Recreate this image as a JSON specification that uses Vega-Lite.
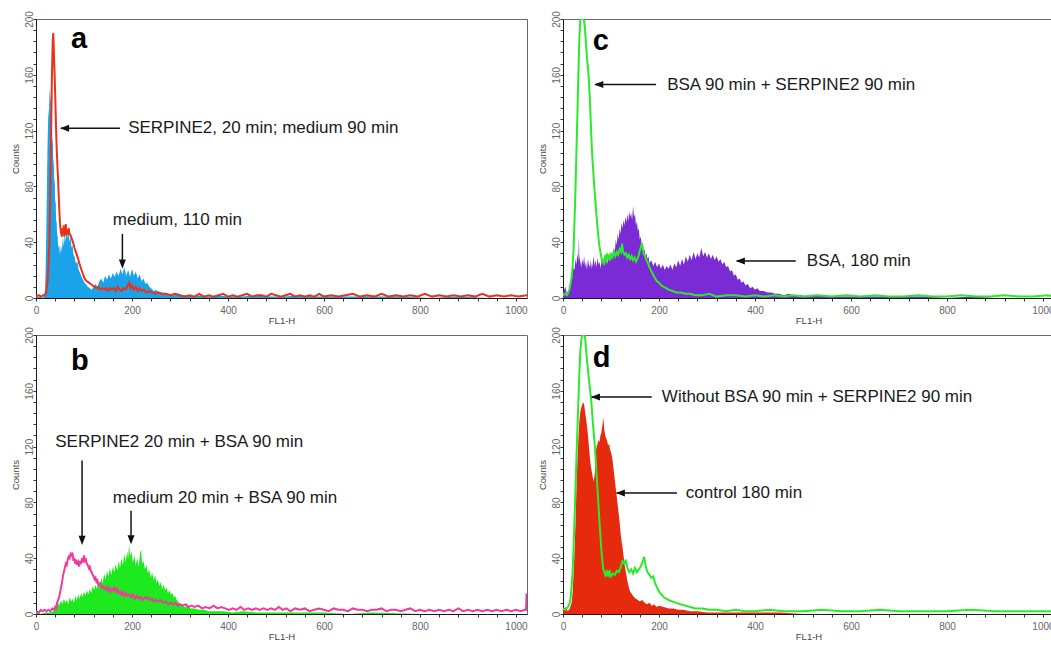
{
"$schema": "https://vega.github.io/schema/vega-lite/v6.json",
"padding": {"left": 9, "top": 10, "right": 0, "bottom": 0},
"config": {
  "view": {"stroke": "#6a6a6a", "strokeWidth": 1},
  "font": "Liberation Sans",
  "axis": {"grid": false, "domainColor": "#1a1a1a", "tickColor": "#333", "labelColor": "#666", "labelFont": "Liberation Sans", "labelFontSize": 10, "titleFont": "Liberation Sans", "titleFontSize": 9.5, "titleFontWeight": "normal", "titleColor": "#444", "tickSize": 3, "format": "d"}
},
"datasets": {
  "a_fill": [{"x":0,"y":0},{"x":8,"y":1},{"x":14,"y":0},{"x":17,"y":2},{"x":19,"y":6},{"x":20,"y":20},{"x":21,"y":38},{"x":22,"y":60},{"x":23,"y":85},{"x":24,"y":108},{"x":25,"y":124},{"x":26,"y":136},{"x":27,"y":130},{"x":28,"y":146},{"x":29,"y":150},{"x":30,"y":140},{"x":31,"y":146},{"x":32,"y":118},{"x":33,"y":130},{"x":34,"y":110},{"x":35,"y":116},{"x":36,"y":96},{"x":37,"y":100},{"x":38,"y":82},{"x":39,"y":86},{"x":40,"y":68},{"x":41,"y":70},{"x":42,"y":54},{"x":43,"y":56},{"x":44,"y":44},{"x":45,"y":46},{"x":46,"y":36},{"x":48,"y":38},{"x":50,"y":31},{"x":52,"y":38},{"x":54,"y":33},{"x":56,"y":44},{"x":58,"y":37},{"x":60,"y":47},{"x":62,"y":40},{"x":64,"y":52},{"x":66,"y":43},{"x":68,"y":48},{"x":70,"y":40},{"x":72,"y":44},{"x":74,"y":36},{"x":76,"y":38},{"x":78,"y":31},{"x":80,"y":30},{"x":83,"y":25},{"x":86,"y":26},{"x":89,"y":20},{"x":92,"y":18},{"x":95,"y":15},{"x":98,"y":13},{"x":101,"y":11},{"x":104,"y":10},{"x":108,"y":8},{"x":112,"y":7},{"x":116,"y":6},{"x":120,"y":8},{"x":124,"y":10},{"x":128,"y":8},{"x":132,"y":12},{"x":136,"y":14},{"x":140,"y":11},{"x":144,"y":16},{"x":148,"y":13},{"x":152,"y":17},{"x":156,"y":14},{"x":160,"y":18},{"x":164,"y":15},{"x":168,"y":19},{"x":172,"y":16},{"x":176,"y":21},{"x":180,"y":17},{"x":184,"y":22},{"x":188,"y":16},{"x":192,"y":20},{"x":196,"y":15},{"x":200,"y":21},{"x":204,"y":16},{"x":208,"y":19},{"x":212,"y":14},{"x":216,"y":17},{"x":220,"y":12},{"x":224,"y":14},{"x":228,"y":10},{"x":232,"y":11},{"x":236,"y":8},{"x":240,"y":7},{"x":245,"y":5},{"x":250,"y":6},{"x":256,"y":4},{"x":262,"y":4},{"x":270,"y":3},{"x":278,"y":3},{"x":286,"y":2},{"x":295,"y":3},{"x":305,"y":2},{"x":315,"y":2},{"x":330,"y":1},{"x":345,"y":2},{"x":360,"y":1},{"x":380,"y":2},{"x":400,"y":1},{"x":430,"y":1},{"x":460,"y":2},{"x":490,"y":1},{"x":520,"y":1},{"x":550,"y":2},{"x":580,"y":1},{"x":620,"y":1},{"x":660,"y":1},{"x":700,"y":1},{"x":760,"y":1},{"x":820,"y":0},{"x":880,"y":1},{"x":940,"y":0},{"x":1023,"y":0}],
  "a_line": [{"x":0,"y":1},{"x":6,"y":2},{"x":11,"y":1},{"x":15,"y":2},{"x":18,"y":2},{"x":20,"y":3},{"x":22,"y":6},{"x":24,"y":12},{"x":26,"y":24},{"x":28,"y":42},{"x":30,"y":80},{"x":32,"y":130},{"x":33,"y":155},{"x":34,"y":172},{"x":35,"y":185},{"x":36,"y":190},{"x":37,"y":180},{"x":38,"y":168},{"x":39,"y":158},{"x":40,"y":146},{"x":41,"y":132},{"x":42,"y":120},{"x":43,"y":108},{"x":44,"y":100},{"x":45,"y":92},{"x":46,"y":86},{"x":47,"y":76},{"x":48,"y":68},{"x":49,"y":60},{"x":50,"y":54},{"x":51,"y":50},{"x":52,"y":47},{"x":54,"y":44},{"x":55,"y":50},{"x":56,"y":46},{"x":58,"y":52},{"x":59,"y":44},{"x":60,"y":50},{"x":61,"y":46},{"x":62,"y":53},{"x":63,"y":45},{"x":64,"y":49},{"x":66,"y":47},{"x":68,"y":50},{"x":70,"y":46},{"x":72,"y":45},{"x":74,"y":43},{"x":76,"y":41},{"x":78,"y":39},{"x":80,"y":36},{"x":82,"y":34},{"x":84,"y":32},{"x":86,"y":30},{"x":88,"y":28},{"x":90,"y":25},{"x":92,"y":23},{"x":94,"y":21},{"x":96,"y":19},{"x":98,"y":17},{"x":100,"y":15},{"x":103,"y":13},{"x":106,"y":12},{"x":110,"y":11},{"x":114,"y":10},{"x":118,"y":9},{"x":122,"y":8},{"x":126,"y":7},{"x":130,"y":8},{"x":134,"y":6},{"x":138,"y":7},{"x":142,"y":6},{"x":146,"y":7},{"x":150,"y":5},{"x":154,"y":7},{"x":158,"y":6},{"x":162,"y":7},{"x":166,"y":5},{"x":170,"y":8},{"x":174,"y":6},{"x":178,"y":5},{"x":182,"y":7},{"x":186,"y":6},{"x":190,"y":8},{"x":194,"y":11},{"x":197,"y":7},{"x":200,"y":9},{"x":204,"y":6},{"x":208,"y":8},{"x":212,"y":5},{"x":216,"y":7},{"x":220,"y":5},{"x":225,"y":6},{"x":230,"y":4},{"x":236,"y":5},{"x":242,"y":4},{"x":248,"y":3},{"x":255,"y":4},{"x":262,"y":3},{"x":270,"y":3},{"x":280,"y":2},{"x":290,"y":3},{"x":300,"y":2},{"x":310,"y":1},{"x":320,"y":2},{"x":330,"y":1},{"x":340,"y":3},{"x":350,"y":1},{"x":360,"y":2},{"x":370,"y":1},{"x":380,"y":2},{"x":390,"y":3},{"x":400,"y":1},{"x":410,"y":2},{"x":420,"y":1},{"x":430,"y":2},{"x":440,"y":3},{"x":450,"y":1},{"x":460,"y":2},{"x":470,"y":2},{"x":480,"y":1},{"x":490,"y":3},{"x":500,"y":2},{"x":510,"y":1},{"x":520,"y":2},{"x":530,"y":3},{"x":540,"y":1},{"x":550,"y":2},{"x":560,"y":1},{"x":570,"y":2},{"x":580,"y":1},{"x":590,"y":3},{"x":600,"y":1},{"x":615,"y":2},{"x":630,"y":1},{"x":645,"y":2},{"x":660,"y":3},{"x":675,"y":1},{"x":690,"y":2},{"x":705,"y":1},{"x":720,"y":3},{"x":735,"y":1},{"x":750,"y":2},{"x":765,"y":1},{"x":780,"y":2},{"x":795,"y":1},{"x":810,"y":3},{"x":825,"y":1},{"x":840,"y":2},{"x":855,"y":1},{"x":870,"y":2},{"x":885,"y":1},{"x":900,"y":2},{"x":915,"y":1},{"x":930,"y":3},{"x":945,"y":1},{"x":960,"y":2},{"x":975,"y":1},{"x":990,"y":2},{"x":1005,"y":1},{"x":1023,"y":2}],
  "a_arrows": [{"x":175,"y":121.6,"x2":52,"y2":121.6},{"x":180,"y":46,"x2":180,"y2":23}],
  "a_headL": [{"x":50,"y":121.6}],
  "a_headD": [{"x":180,"y":21}],
  "a_text": [{"x":192,"y":121.6,"t":"SERPINE2, 20 min; medium 90 min"},{"x":160,"y":56,"t":"medium, 110 min"}],
  "a_letter": [{"x":73,"y":179,"t":"a"}],
  "c_fill": [{"x":0,"y":4},{"x":5,"y":8},{"x":8,"y":3},{"x":12,"y":6},{"x":15,"y":10},{"x":18,"y":14},{"x":20,"y":18},{"x":22,"y":22},{"x":24,"y":20},{"x":26,"y":28},{"x":28,"y":24},{"x":30,"y":32},{"x":32,"y":26},{"x":33,"y":44},{"x":34,"y":30},{"x":36,"y":26},{"x":38,"y":22},{"x":40,"y":28},{"x":42,"y":24},{"x":44,"y":30},{"x":46,"y":22},{"x":48,"y":26},{"x":50,"y":20},{"x":52,"y":28},{"x":54,"y":24},{"x":56,"y":22},{"x":58,"y":27},{"x":60,"y":21},{"x":62,"y":25},{"x":64,"y":30},{"x":66,"y":23},{"x":68,"y":27},{"x":70,"y":22},{"x":72,"y":29},{"x":74,"y":24},{"x":76,"y":26},{"x":78,"y":21},{"x":80,"y":27},{"x":82,"y":25},{"x":84,"y":29},{"x":86,"y":23},{"x":88,"y":26},{"x":90,"y":28},{"x":92,"y":24},{"x":94,"y":30},{"x":96,"y":26},{"x":98,"y":31},{"x":100,"y":28},{"x":102,"y":34},{"x":104,"y":29},{"x":106,"y":36},{"x":108,"y":33},{"x":110,"y":42},{"x":112,"y":38},{"x":114,"y":46},{"x":116,"y":42},{"x":118,"y":50},{"x":120,"y":46},{"x":122,"y":54},{"x":124,"y":50},{"x":126,"y":56},{"x":128,"y":52},{"x":130,"y":58},{"x":132,"y":54},{"x":134,"y":60},{"x":136,"y":55},{"x":138,"y":62},{"x":140,"y":58},{"x":142,"y":61},{"x":144,"y":56},{"x":146,"y":66},{"x":148,"y":58},{"x":150,"y":60},{"x":152,"y":52},{"x":154,"y":55},{"x":156,"y":48},{"x":158,"y":50},{"x":160,"y":42},{"x":162,"y":44},{"x":164,"y":38},{"x":166,"y":40},{"x":168,"y":33},{"x":170,"y":35},{"x":172,"y":30},{"x":174,"y":32},{"x":176,"y":28},{"x":178,"y":30},{"x":180,"y":25},{"x":184,"y":27},{"x":188,"y":23},{"x":192,"y":26},{"x":196,"y":22},{"x":200,"y":25},{"x":204,"y":21},{"x":208,"y":24},{"x":212,"y":20},{"x":216,"y":23},{"x":220,"y":21},{"x":224,"y":24},{"x":228,"y":20},{"x":232,"y":25},{"x":236,"y":22},{"x":240,"y":27},{"x":244,"y":23},{"x":248,"y":28},{"x":252,"y":24},{"x":256,"y":30},{"x":260,"y":26},{"x":264,"y":31},{"x":268,"y":27},{"x":272,"y":33},{"x":276,"y":28},{"x":280,"y":32},{"x":284,"y":29},{"x":288,"y":36},{"x":292,"y":30},{"x":296,"y":33},{"x":300,"y":29},{"x":304,"y":32},{"x":308,"y":28},{"x":312,"y":31},{"x":316,"y":27},{"x":320,"y":30},{"x":324,"y":26},{"x":328,"y":28},{"x":332,"y":24},{"x":336,"y":26},{"x":340,"y":22},{"x":344,"y":23},{"x":348,"y":19},{"x":352,"y":20},{"x":356,"y":16},{"x":360,"y":17},{"x":364,"y":13},{"x":368,"y":14},{"x":372,"y":11},{"x":376,"y":12},{"x":380,"y":9},{"x":385,"y":10},{"x":390,"y":7},{"x":395,"y":8},{"x":400,"y":6},{"x":405,"y":7},{"x":410,"y":5},{"x":418,"y":5},{"x":426,"y":4},{"x":434,"y":4},{"x":442,"y":3},{"x":450,"y":3},{"x":460,"y":2},{"x":470,"y":3},{"x":480,"y":2},{"x":495,"y":2},{"x":510,"y":1},{"x":530,"y":2},{"x":550,"y":1},{"x":570,"y":1},{"x":600,"y":1},{"x":650,"y":1},{"x":700,"y":1},{"x":750,"y":1},{"x":800,"y":0},{"x":850,"y":1},{"x":900,"y":0},{"x":1023,"y":0}],
  "c_line": [{"x":0,"y":2},{"x":5,"y":3},{"x":8,"y":2},{"x":10,"y":3},{"x":12,"y":5},{"x":14,"y":7},{"x":16,"y":11},{"x":18,"y":15},{"x":20,"y":22},{"x":22,"y":35},{"x":24,"y":55},{"x":26,"y":78},{"x":28,"y":105},{"x":30,"y":131},{"x":32,"y":160},{"x":34,"y":185},{"x":36,"y":200},{"x":38,"y":200},{"x":40,"y":200},{"x":42,"y":200},{"x":44,"y":199},{"x":46,"y":192},{"x":48,"y":182},{"x":50,"y":172},{"x":52,"y":165},{"x":54,"y":156},{"x":56,"y":142},{"x":58,"y":125},{"x":60,"y":108},{"x":62,"y":96},{"x":64,"y":86},{"x":66,"y":76},{"x":68,"y":67},{"x":70,"y":58},{"x":72,"y":50},{"x":74,"y":43},{"x":76,"y":37},{"x":78,"y":33},{"x":80,"y":29},{"x":82,"y":26},{"x":84,"y":28},{"x":86,"y":24},{"x":88,"y":31},{"x":90,"y":27},{"x":92,"y":32},{"x":94,"y":28},{"x":96,"y":30},{"x":98,"y":27},{"x":100,"y":31},{"x":103,"y":29},{"x":106,"y":33},{"x":109,"y":30},{"x":112,"y":33},{"x":115,"y":31},{"x":118,"y":35},{"x":121,"y":33},{"x":123,"y":39},{"x":125,"y":34},{"x":128,"y":31},{"x":131,"y":32},{"x":134,"y":29},{"x":137,"y":31},{"x":140,"y":28},{"x":143,"y":30},{"x":146,"y":27},{"x":149,"y":29},{"x":152,"y":26},{"x":155,"y":28},{"x":158,"y":31},{"x":161,"y":35},{"x":164,"y":39},{"x":166,"y":36},{"x":168,"y":32},{"x":171,"y":30},{"x":174,"y":27},{"x":177,"y":25},{"x":180,"y":22},{"x":183,"y":20},{"x":186,"y":18},{"x":189,"y":16},{"x":192,"y":14},{"x":196,"y":12},{"x":200,"y":11},{"x":205,"y":9},{"x":210,"y":8},{"x":215,"y":7},{"x":220,"y":6},{"x":228,"y":5},{"x":236,"y":4},{"x":245,"y":4},{"x":255,"y":3},{"x":265,"y":3},{"x":275,"y":2},{"x":290,"y":2},{"x":305,"y":3},{"x":320,"y":1},{"x":340,"y":2},{"x":360,"y":2},{"x":380,"y":1},{"x":400,"y":2},{"x":420,"y":1},{"x":440,"y":2},{"x":460,"y":1},{"x":480,"y":2},{"x":500,"y":1},{"x":530,"y":2},{"x":560,"y":1},{"x":590,"y":2},{"x":620,"y":1},{"x":650,"y":2},{"x":680,"y":1},{"x":710,"y":1},{"x":740,"y":2},{"x":770,"y":1},{"x":800,"y":1},{"x":830,"y":2},{"x":860,"y":1},{"x":890,"y":1},{"x":920,"y":2},{"x":950,"y":1},{"x":980,"y":1},{"x":1010,"y":2},{"x":1023,"y":1}],
  "c_arrows": [{"x":194,"y":153,"x2":67,"y2":153},{"x":485,"y":26.5,"x2":362,"y2":26.5}],
  "c_headL": [{"x":65,"y":153},{"x":360,"y":26.5}],
  "c_text": [{"x":217,"y":153,"t":"BSA 90 min + SERPINE2 90 min"},{"x":508,"y":26.5,"t":"BSA, 180 min"}],
  "c_letter": [{"x":62,"y":178,"t":"c"}],
  "b_fill": [{"x":0,"y":1},{"x":10,"y":0},{"x":20,"y":1},{"x":30,"y":1},{"x":36,"y":2},{"x":40,"y":3},{"x":43,"y":5},{"x":46,"y":8},{"x":49,"y":6},{"x":52,"y":10},{"x":55,"y":7},{"x":58,"y":11},{"x":61,"y":8},{"x":64,"y":10},{"x":67,"y":7},{"x":70,"y":12},{"x":73,"y":9},{"x":76,"y":11},{"x":79,"y":8},{"x":82,"y":13},{"x":85,"y":10},{"x":88,"y":14},{"x":91,"y":11},{"x":94,"y":15},{"x":97,"y":12},{"x":100,"y":16},{"x":103,"y":13},{"x":106,"y":17},{"x":109,"y":14},{"x":112,"y":18},{"x":115,"y":15},{"x":118,"y":20},{"x":121,"y":17},{"x":124,"y":21},{"x":127,"y":18},{"x":130,"y":24},{"x":133,"y":20},{"x":136,"y":26},{"x":139,"y":22},{"x":142,"y":29},{"x":145,"y":25},{"x":148,"y":31},{"x":151,"y":27},{"x":154,"y":33},{"x":157,"y":28},{"x":160,"y":34},{"x":163,"y":30},{"x":166,"y":36},{"x":169,"y":31},{"x":172,"y":38},{"x":175,"y":33},{"x":178,"y":40},{"x":181,"y":35},{"x":184,"y":43},{"x":187,"y":37},{"x":190,"y":45},{"x":192,"y":40},{"x":194,"y":50},{"x":196,"y":41},{"x":199,"y":45},{"x":202,"y":37},{"x":205,"y":42},{"x":208,"y":35},{"x":211,"y":40},{"x":214,"y":34},{"x":217,"y":44},{"x":219,"y":46},{"x":221,"y":36},{"x":224,"y":38},{"x":227,"y":32},{"x":230,"y":35},{"x":233,"y":29},{"x":236,"y":32},{"x":239,"y":26},{"x":242,"y":30},{"x":245,"y":24},{"x":248,"y":28},{"x":251,"y":22},{"x":254,"y":25},{"x":257,"y":20},{"x":260,"y":23},{"x":263,"y":18},{"x":266,"y":21},{"x":269,"y":17},{"x":272,"y":19},{"x":275,"y":15},{"x":278,"y":17},{"x":281,"y":14},{"x":284,"y":15},{"x":287,"y":12},{"x":290,"y":13},{"x":293,"y":10},{"x":296,"y":9},{"x":300,"y":7},{"x":305,"y":6},{"x":310,"y":5},{"x":316,"y":6},{"x":322,"y":4},{"x":330,"y":4},{"x":340,"y":3},{"x":350,"y":3},{"x":360,"y":2},{"x":375,"y":2},{"x":390,"y":2},{"x":410,"y":1},{"x":430,"y":2},{"x":460,"y":1},{"x":500,"y":1},{"x":550,"y":1},{"x":600,"y":1},{"x":650,"y":0},{"x":700,"y":1},{"x":800,"y":0},{"x":900,"y":0},{"x":1023,"y":0}],
  "b_line": [{"x":0,"y":2},{"x":6,"y":1},{"x":10,"y":3},{"x":14,"y":2},{"x":18,"y":3},{"x":22,"y":2},{"x":26,"y":3},{"x":30,"y":2},{"x":34,"y":4},{"x":38,"y":3},{"x":40,"y":5},{"x":42,"y":4},{"x":44,"y":8},{"x":46,"y":10},{"x":48,"y":12},{"x":50,"y":15},{"x":52,"y":19},{"x":54,"y":22},{"x":56,"y":27},{"x":58,"y":30},{"x":60,"y":33},{"x":62,"y":36},{"x":64,"y":35},{"x":66,"y":39},{"x":68,"y":41},{"x":70,"y":40},{"x":72,"y":43},{"x":74,"y":42},{"x":76,"y":44},{"x":78,"y":38},{"x":80,"y":40},{"x":82,"y":36},{"x":84,"y":39},{"x":86,"y":35},{"x":88,"y":37},{"x":90,"y":34},{"x":92,"y":38},{"x":94,"y":36},{"x":96,"y":40},{"x":98,"y":37},{"x":100,"y":42},{"x":102,"y":38},{"x":104,"y":39},{"x":106,"y":36},{"x":108,"y":35},{"x":110,"y":33},{"x":112,"y":34},{"x":114,"y":31},{"x":116,"y":30},{"x":118,"y":28},{"x":120,"y":27},{"x":122,"y":25},{"x":124,"y":26},{"x":126,"y":23},{"x":128,"y":24},{"x":130,"y":21},{"x":133,"y":22},{"x":136,"y":19},{"x":139,"y":20},{"x":142,"y":18},{"x":145,"y":19},{"x":148,"y":17},{"x":151,"y":19},{"x":154,"y":16},{"x":157,"y":18},{"x":160,"y":17},{"x":163,"y":19},{"x":166,"y":16},{"x":169,"y":18},{"x":172,"y":15},{"x":175,"y":16},{"x":178,"y":14},{"x":181,"y":16},{"x":184,"y":13},{"x":187,"y":15},{"x":190,"y":13},{"x":194,"y":14},{"x":198,"y":12},{"x":202,"y":14},{"x":206,"y":11},{"x":210,"y":13},{"x":214,"y":11},{"x":218,"y":12},{"x":222,"y":10},{"x":226,"y":12},{"x":230,"y":11},{"x":234,"y":12},{"x":238,"y":10},{"x":242,"y":11},{"x":246,"y":9},{"x":250,"y":10},{"x":255,"y":9},{"x":260,"y":10},{"x":265,"y":8},{"x":270,"y":9},{"x":275,"y":7},{"x":280,"y":8},{"x":285,"y":7},{"x":290,"y":8},{"x":295,"y":6},{"x":300,"y":7},{"x":306,"y":6},{"x":312,"y":7},{"x":318,"y":5},{"x":324,"y":6},{"x":330,"y":5},{"x":338,"y":6},{"x":346,"y":4},{"x":354,"y":5},{"x":362,"y":4},{"x":370,"y":6},{"x":378,"y":4},{"x":386,"y":5},{"x":394,"y":4},{"x":402,"y":3},{"x":410,"y":4},{"x":418,"y":3},{"x":426,"y":5},{"x":434,"y":3},{"x":442,"y":4},{"x":450,"y":3},{"x":458,"y":4},{"x":466,"y":3},{"x":474,"y":4},{"x":482,"y":3},{"x":490,"y":4},{"x":498,"y":3},{"x":506,"y":5},{"x":514,"y":3},{"x":522,"y":4},{"x":530,"y":2},{"x":540,"y":4},{"x":550,"y":3},{"x":560,"y":4},{"x":570,"y":2},{"x":580,"y":3},{"x":590,"y":4},{"x":600,"y":3},{"x":610,"y":2},{"x":620,"y":4},{"x":630,"y":3},{"x":640,"y":3},{"x":650,"y":2},{"x":660,"y":4},{"x":670,"y":3},{"x":680,"y":3},{"x":690,"y":2},{"x":700,"y":3},{"x":710,"y":3},{"x":720,"y":4},{"x":730,"y":2},{"x":740,"y":3},{"x":750,"y":3},{"x":760,"y":2},{"x":770,"y":3},{"x":780,"y":4},{"x":790,"y":2},{"x":800,"y":3},{"x":810,"y":2},{"x":820,"y":3},{"x":830,"y":2},{"x":840,"y":3},{"x":850,"y":2},{"x":860,"y":3},{"x":870,"y":2},{"x":880,"y":4},{"x":890,"y":2},{"x":900,"y":3},{"x":910,"y":2},{"x":920,"y":3},{"x":930,"y":2},{"x":940,"y":3},{"x":950,"y":2},{"x":960,"y":3},{"x":970,"y":2},{"x":980,"y":3},{"x":990,"y":2},{"x":1000,"y":3},{"x":1010,"y":2},{"x":1018,"y":3},{"x":1021,"y":3},{"x":1022,"y":14},{"x":1023,"y":14}],
  "b_arrows": [{"x":96,"y":110,"x2":96,"y2":52},{"x":198,"y":74,"x2":198,"y2":52}],
  "b_headD": [{"x":96,"y":49.5},{"x":198,"y":50}],
  "b_text": [{"x":40,"y":123,"t":"SERPINE2 20 min + BSA 90 min"},{"x":160,"y":83,"t":"medium 20 min + BSA 90 min"}],
  "b_letter": [{"x":73,"y":175,"t":"b"}],
  "d_fill": [{"x":0,"y":3},{"x":6,"y":5},{"x":10,"y":2},{"x":14,"y":4},{"x":18,"y":8},{"x":20,"y":15},{"x":22,"y":28},{"x":24,"y":45},{"x":26,"y":65},{"x":28,"y":90},{"x":30,"y":110},{"x":32,"y":125},{"x":34,"y":138},{"x":36,"y":145},{"x":38,"y":148},{"x":40,"y":150},{"x":42,"y":152},{"x":44,"y":150},{"x":46,"y":145},{"x":48,"y":140},{"x":50,"y":135},{"x":52,"y":128},{"x":54,"y":120},{"x":56,"y":112},{"x":58,"y":106},{"x":60,"y":102},{"x":62,"y":98},{"x":64,"y":95},{"x":66,"y":100},{"x":68,"y":115},{"x":70,"y":120},{"x":72,"y":122},{"x":74,"y":125},{"x":76,"y":123},{"x":78,"y":128},{"x":80,"y":130},{"x":82,"y":135},{"x":84,"y":141},{"x":86,"y":132},{"x":88,"y":128},{"x":90,"y":126},{"x":92,"y":124},{"x":94,"y":121},{"x":96,"y":122},{"x":98,"y":118},{"x":100,"y":116},{"x":102,"y":113},{"x":104,"y":108},{"x":106,"y":102},{"x":108,"y":96},{"x":110,"y":90},{"x":112,"y":84},{"x":114,"y":78},{"x":116,"y":72},{"x":118,"y":66},{"x":120,"y":58},{"x":122,"y":52},{"x":124,"y":48},{"x":126,"y":42},{"x":128,"y":37},{"x":130,"y":32},{"x":132,"y":28},{"x":134,"y":24},{"x":136,"y":21},{"x":138,"y":18},{"x":140,"y":16},{"x":144,"y":14},{"x":148,"y":12},{"x":152,"y":11},{"x":156,"y":10},{"x":160,"y":9},{"x":165,"y":10},{"x":170,"y":8},{"x":175,"y":7},{"x":180,"y":8},{"x":185,"y":6},{"x":190,"y":7},{"x":195,"y":5},{"x":200,"y":6},{"x":210,"y":5},{"x":220,"y":4},{"x":230,"y":4},{"x":240,"y":3},{"x":250,"y":3},{"x":265,"y":2},{"x":280,"y":2},{"x":300,"y":1},{"x":330,"y":1},{"x":360,"y":1},{"x":400,"y":1},{"x":450,"y":1},{"x":500,"y":0},{"x":1023,"y":0}],
  "d_line": [{"x":0,"y":4},{"x":5,"y":3},{"x":10,"y":5},{"x":12,"y":6},{"x":14,"y":8},{"x":16,"y":12},{"x":18,"y":20},{"x":20,"y":30},{"x":22,"y":48},{"x":24,"y":68},{"x":26,"y":90},{"x":28,"y":112},{"x":30,"y":132},{"x":32,"y":152},{"x":34,"y":172},{"x":36,"y":188},{"x":38,"y":196},{"x":40,"y":200},{"x":42,"y":200},{"x":44,"y":200},{"x":46,"y":198},{"x":48,"y":190},{"x":50,"y":182},{"x":52,"y":175},{"x":54,"y":168},{"x":56,"y":162},{"x":58,"y":156},{"x":60,"y":148},{"x":62,"y":138},{"x":64,"y":130},{"x":66,"y":122},{"x":68,"y":112},{"x":70,"y":100},{"x":72,"y":89},{"x":74,"y":78},{"x":76,"y":66},{"x":78,"y":56},{"x":80,"y":46},{"x":82,"y":38},{"x":84,"y":32},{"x":86,"y":30},{"x":88,"y":28},{"x":90,"y":30},{"x":92,"y":27},{"x":94,"y":31},{"x":96,"y":28},{"x":98,"y":30},{"x":100,"y":27},{"x":104,"y":29},{"x":108,"y":28},{"x":112,"y":31},{"x":116,"y":30},{"x":120,"y":33},{"x":124,"y":38},{"x":128,"y":36},{"x":131,"y":39},{"x":134,"y":33},{"x":138,"y":30},{"x":142,"y":32},{"x":146,"y":29},{"x":150,"y":33},{"x":154,"y":30},{"x":158,"y":32},{"x":162,"y":34},{"x":166,"y":38},{"x":169,"y":41},{"x":172,"y":35},{"x":176,"y":30},{"x":180,"y":28},{"x":184,"y":26},{"x":188,"y":27},{"x":192,"y":22},{"x":196,"y":19},{"x":200,"y":16},{"x":205,"y":14},{"x":210,"y":12},{"x":215,"y":11},{"x":220,"y":10},{"x":228,"y":9},{"x":236,"y":8},{"x":245,"y":7},{"x":255,"y":6},{"x":265,"y":5},{"x":275,"y":4},{"x":290,"y":4},{"x":305,"y":3},{"x":320,"y":3},{"x":340,"y":2},{"x":360,"y":3},{"x":380,"y":2},{"x":400,"y":2},{"x":430,"y":3},{"x":460,"y":2},{"x":500,"y":2},{"x":540,"y":3},{"x":580,"y":2},{"x":620,"y":2},{"x":660,"y":3},{"x":700,"y":2},{"x":750,"y":2},{"x":800,"y":2},{"x":850,"y":3},{"x":900,"y":2},{"x":950,"y":2},{"x":1000,"y":2},{"x":1023,"y":2}],
  "d_arrows": [{"x":185,"y":155.6,"x2":60,"y2":155.6},{"x":237.5,"y":86.7,"x2":112,"y2":86.7}],
  "d_headL": [{"x":58,"y":155.6},{"x":110,"y":86.7}],
  "d_text": [{"x":206,"y":155.6,"t":"Without BSA 90 min + SERPINE2 90 min"},{"x":256,"y":86.7,"t":"control 180 min"}],
  "d_letter": [{"x":62,"y":177,"t":"d"}]
},
"spacing": 1,
"vconcat": [
 {"hconcat": [
  {"width": 491, "height": 279,
   "encoding": {
     "x": {"field": "x", "type": "quantitative", "scale": {"domain": [0, 1023], "nice": false, "zero": false}, "axis": {"title": "FL1-H", "values": [0,40,80,120,160,200,240,280,320,360,400,440,480,520,560,600,640,680,720,760,800,840,880,920,960,1000], "labelExpr": "datum.value % 200 === 0 ? datum.label : ''", "labelPadding": 4, "titlePadding": 0, "labelFlush": false}},
     "y": {"field": "y", "type": "quantitative", "scale": {"domain": [0, 200], "nice": false}, "axis": {"title": "Counts", "values": [0,8,16,24,32,40,48,56,64,72,80,88,96,104,112,120,128,136,144,152,160,168,176,184,192,200], "labelExpr": "datum.value % 40 === 0 ? datum.label : ''", "labelAngle": -90, "labelAlign": "center", "labelBaseline": "alphabetic", "labelPadding": 1, "titlePadding": 4, "labelFlush": false}}
   },
   "layer": [
     {"data": {"name": "a_fill"}, "mark": {"type": "area", "color": "#1aa3e8", "clip": true}},
     {"data": {"name": "a_line"}, "mark": {"type": "line", "color": "#e8321a", "strokeWidth": 2, "clip": true}},
     {"data": {"name": "a_arrows"}, "mark": {"type": "rule", "color": "#111", "strokeWidth": 1.5}, "encoding": {"x2": {"field": "x2"}, "y2": {"field": "y2"}}},
     {"data": {"name": "a_headL"}, "mark": {"type": "point", "shape": "M0,0L2.6,-1L2.6,1Z", "size": 49, "filled": true, "color": "#111", "opacity": 1, "strokeWidth": 0}},
     {"data": {"name": "a_headD"}, "mark": {"type": "point", "shape": "M0,0L-1,-2.6L1,-2.6Z", "size": 49, "filled": true, "color": "#111", "opacity": 1, "strokeWidth": 0}},
     {"data": {"name": "a_text"}, "mark": {"type": "text", "align": "left", "baseline": "middle", "fontSize": 17, "font": "Liberation Sans", "color": "#1a1a1a"}, "encoding": {"text": {"field": "t"}}},
     {"data": {"name": "a_letter"}, "mark": {"type": "text", "align": "left", "baseline": "alphabetic", "fontSize": 29, "fontWeight": "bold", "font": "Liberation Sans", "color": "#000"}, "encoding": {"text": {"field": "t"}}}
   ]
  },
  {"width": 491, "height": 279,
   "encoding": {
     "x": {"field": "x", "type": "quantitative", "scale": {"domain": [0, 1023], "nice": false, "zero": false}, "axis": {"title": "FL1-H", "values": [0,40,80,120,160,200,240,280,320,360,400,440,480,520,560,600,640,680,720,760,800,840,880,920,960,1000], "labelExpr": "datum.value % 200 === 0 ? datum.label : ''", "labelPadding": 4, "titlePadding": 0, "labelFlush": false}},
     "y": {"field": "y", "type": "quantitative", "scale": {"domain": [0, 200], "nice": false}, "axis": {"title": "Counts", "values": [0,8,16,24,32,40,48,56,64,72,80,88,96,104,112,120,128,136,144,152,160,168,176,184,192,200], "labelExpr": "datum.value % 40 === 0 ? datum.label : ''", "labelAngle": -90, "labelAlign": "center", "labelBaseline": "alphabetic", "labelPadding": 1, "titlePadding": 4, "labelFlush": false}}
   },
   "layer": [
     {"data": {"name": "c_fill"}, "mark": {"type": "area", "color": "#7a2bd6", "clip": true}},
     {"data": {"name": "c_line"}, "mark": {"type": "line", "color": "#2bea2b", "strokeWidth": 2, "clip": true}},
     {"data": {"name": "c_arrows"}, "mark": {"type": "rule", "color": "#111", "strokeWidth": 1.5}, "encoding": {"x2": {"field": "x2"}, "y2": {"field": "y2"}}},
     {"data": {"name": "c_headL"}, "mark": {"type": "point", "shape": "M0,0L2.6,-1L2.6,1Z", "size": 49, "filled": true, "color": "#111", "opacity": 1, "strokeWidth": 0}},
     {"data": {"name": "c_text"}, "mark": {"type": "text", "align": "left", "baseline": "middle", "fontSize": 17, "font": "Liberation Sans", "color": "#1a1a1a"}, "encoding": {"text": {"field": "t"}}},
     {"data": {"name": "c_letter"}, "mark": {"type": "text", "align": "left", "baseline": "alphabetic", "fontSize": 29, "fontWeight": "bold", "font": "Liberation Sans", "color": "#000"}, "encoding": {"text": {"field": "t"}}}
   ]
  }
 ], "spacing": 8},
 {"hconcat": [
  {"width": 491, "height": 279,
   "encoding": {
     "x": {"field": "x", "type": "quantitative", "scale": {"domain": [0, 1023], "nice": false, "zero": false}, "axis": {"title": "FL1-H", "values": [0,40,80,120,160,200,240,280,320,360,400,440,480,520,560,600,640,680,720,760,800,840,880,920,960,1000], "labelExpr": "datum.value % 200 === 0 ? datum.label : ''", "labelPadding": 4, "titlePadding": 0, "labelFlush": false}},
     "y": {"field": "y", "type": "quantitative", "scale": {"domain": [0, 200], "nice": false}, "axis": {"title": "Counts", "values": [0,8,16,24,32,40,48,56,64,72,80,88,96,104,112,120,128,136,144,152,160,168,176,184,192,200], "labelExpr": "datum.value % 40 === 0 ? datum.label : ''", "labelAngle": -90, "labelAlign": "center", "labelBaseline": "alphabetic", "labelPadding": 1, "titlePadding": 4, "labelFlush": false}}
   },
   "layer": [
     {"data": {"name": "b_fill"}, "mark": {"type": "area", "color": "#1ee81e", "clip": true}},
     {"data": {"name": "b_line"}, "mark": {"type": "line", "color": "#ee3c9c", "strokeWidth": 2, "clip": true}},
     {"data": {"name": "b_arrows"}, "mark": {"type": "rule", "color": "#111", "strokeWidth": 1.5}, "encoding": {"x2": {"field": "x2"}, "y2": {"field": "y2"}}},
     {"data": {"name": "b_headD"}, "mark": {"type": "point", "shape": "M0,0L-1,-2.6L1,-2.6Z", "size": 49, "filled": true, "color": "#111", "opacity": 1, "strokeWidth": 0}},
     {"data": {"name": "b_text"}, "mark": {"type": "text", "align": "left", "baseline": "middle", "fontSize": 17, "font": "Liberation Sans", "color": "#1a1a1a"}, "encoding": {"text": {"field": "t"}}},
     {"data": {"name": "b_letter"}, "mark": {"type": "text", "align": "left", "baseline": "alphabetic", "fontSize": 29, "fontWeight": "bold", "font": "Liberation Sans", "color": "#000"}, "encoding": {"text": {"field": "t"}}}
   ]
  },
  {"width": 491, "height": 279,
   "encoding": {
     "x": {"field": "x", "type": "quantitative", "scale": {"domain": [0, 1023], "nice": false, "zero": false}, "axis": {"title": "FL1-H", "values": [0,40,80,120,160,200,240,280,320,360,400,440,480,520,560,600,640,680,720,760,800,840,880,920,960,1000], "labelExpr": "datum.value % 200 === 0 ? datum.label : ''", "labelPadding": 4, "titlePadding": 0, "labelFlush": false}},
     "y": {"field": "y", "type": "quantitative", "scale": {"domain": [0, 200], "nice": false}, "axis": {"title": "Counts", "values": [0,8,16,24,32,40,48,56,64,72,80,88,96,104,112,120,128,136,144,152,160,168,176,184,192,200], "labelExpr": "datum.value % 40 === 0 ? datum.label : ''", "labelAngle": -90, "labelAlign": "center", "labelBaseline": "alphabetic", "labelPadding": 1, "titlePadding": 4, "labelFlush": false}}
   },
   "layer": [
     {"data": {"name": "d_fill"}, "mark": {"type": "area", "color": "#e52a0e", "clip": true}},
     {"data": {"name": "d_line"}, "mark": {"type": "line", "color": "#2bea2b", "strokeWidth": 2, "clip": true}},
     {"data": {"name": "d_arrows"}, "mark": {"type": "rule", "color": "#111", "strokeWidth": 1.5}, "encoding": {"x2": {"field": "x2"}, "y2": {"field": "y2"}}},
     {"data": {"name": "d_headL"}, "mark": {"type": "point", "shape": "M0,0L2.6,-1L2.6,1Z", "size": 49, "filled": true, "color": "#111", "opacity": 1, "strokeWidth": 0}},
     {"data": {"name": "d_text"}, "mark": {"type": "text", "align": "left", "baseline": "middle", "fontSize": 17, "font": "Liberation Sans", "color": "#1a1a1a"}, "encoding": {"text": {"field": "t"}}},
     {"data": {"name": "d_letter"}, "mark": {"type": "text", "align": "left", "baseline": "alphabetic", "fontSize": 29, "fontWeight": "bold", "font": "Liberation Sans", "color": "#000"}, "encoding": {"text": {"field": "t"}}}
   ]
  }
 ], "spacing": 8}
]
}
